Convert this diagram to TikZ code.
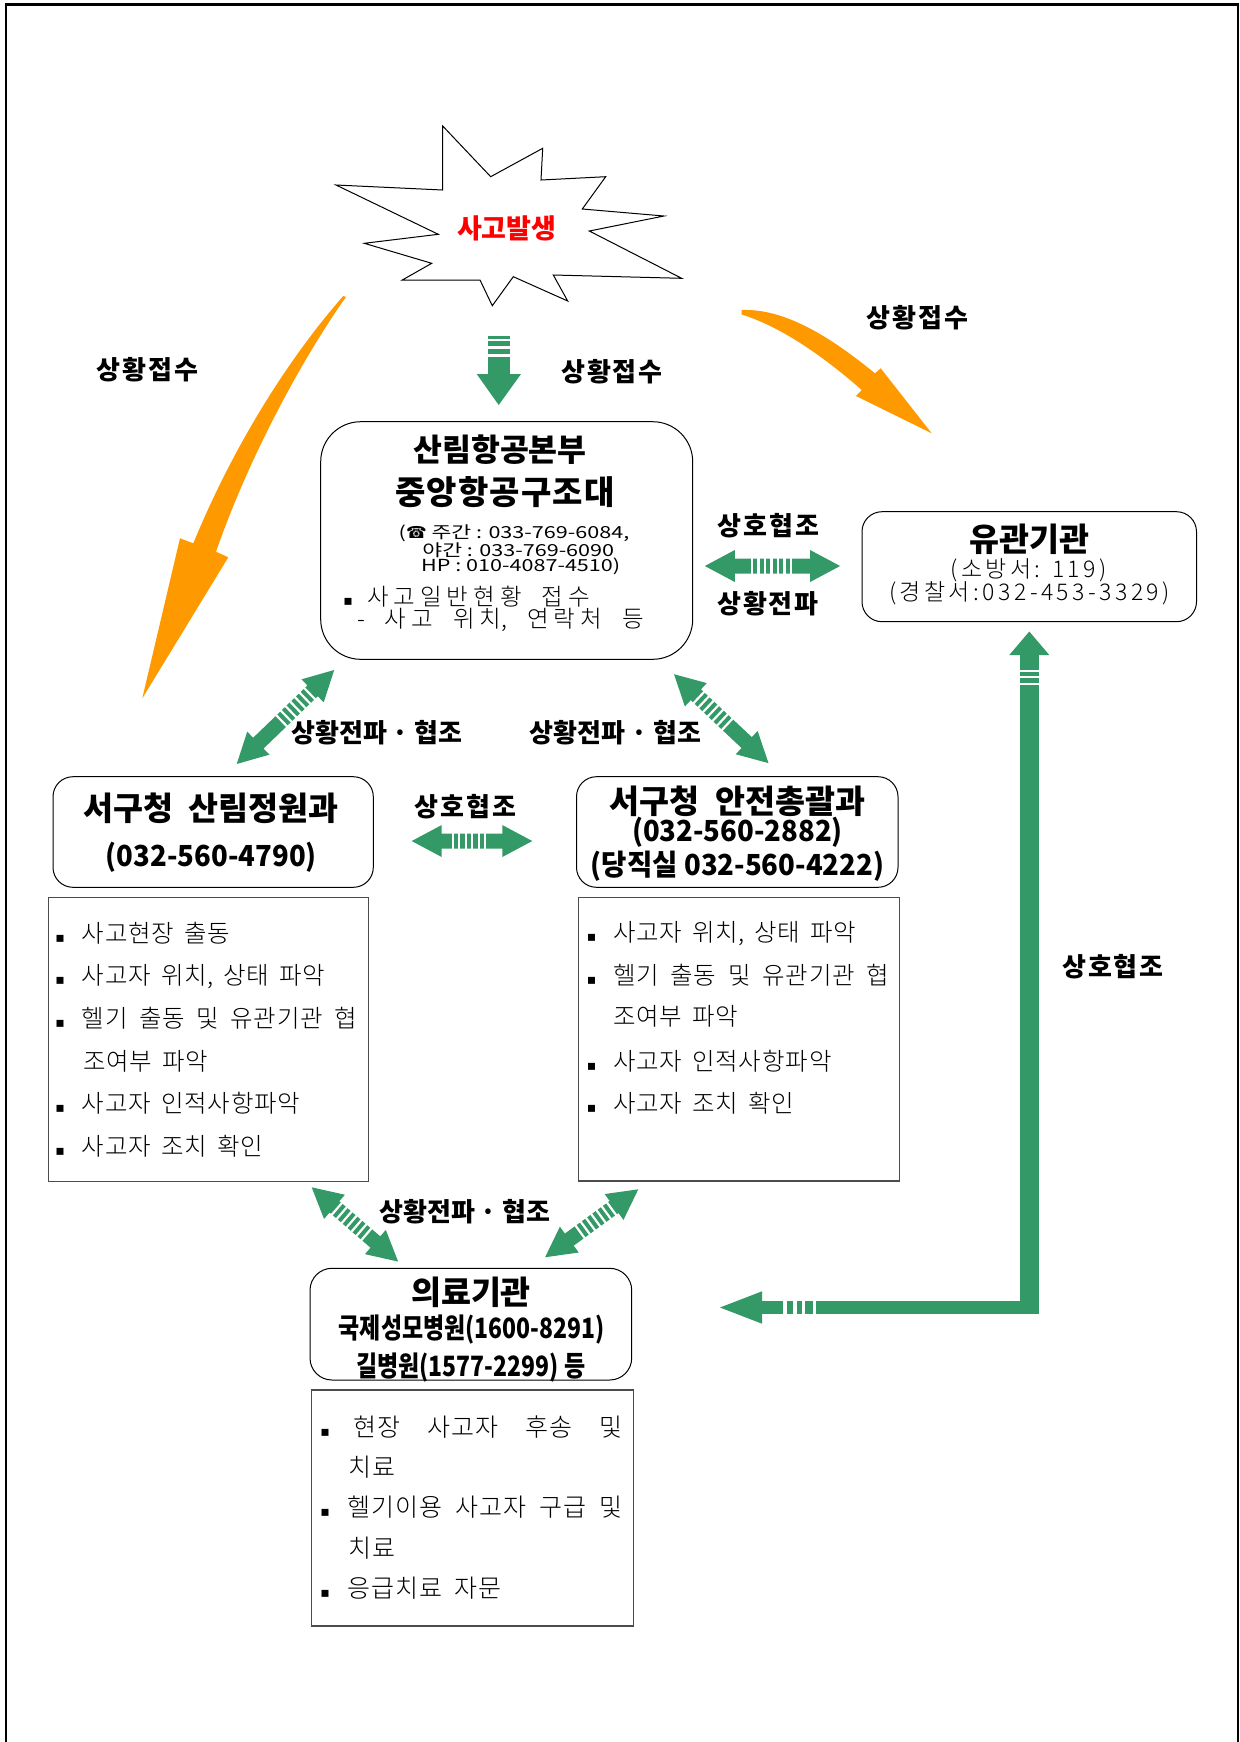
\documentclass[tikz,border=0pt]{standalone}
\usepackage{fontspec}
\newfontfamily\kreg{Noto Sans CJK KR}
\newfontfamily\klight{Noto Sans CJK KR Light}
\newfontfamily\klightls{Noto Sans CJK KR Light}[LetterSpace=15]
\newfontfamily\kcond{Noto Sans CJK KR}[FakeStretch=0.82]
\newfontfamily\kcondb{Noto Sans CJK KR}[FakeStretch=0.95]
\newfontfamily\kphone{Noto Sans CJK KR}[FakeStretch=1.3]
\newfontfamily\symfont{DejaVu Sans}
\usetikzlibrary{calc}

\definecolor{linkgreen}{RGB}{51,153,102}
\definecolor{flashorange}{RGB}{255,153,0}

% tracking between Hangul syllables
\XeTeXinterchartokenstate=1
\newXeTeXintercharclass\hanclass
\newcount\hancode
\hancode="AC00\relax
\loop
  \XeTeXcharclass\hancode=\hanclass
  \ifnum\hancode<"D7A3 \advance\hancode by 1
\repeat
\newdimen\hantrack
\XeTeXinterchartoks\hanclass\hanclass={\kern\hantrack}
\newcommand{\track}[1]{\hantrack#1\relax}
\newcommand{\wordgap}[1]{\spaceskip#1 plus 20pt minus 4.5pt\relax}

\newcommand{\blt}[1]{\makebox[#1][l]{\symfont\fontsize{7}{7}\selectfont ▪}}
% green two-way arrow: from, to, offset of first white gap (px), number of gaps
\newcommand{\greenlink}[4]{%
  \path let \p1=(#1), \p2=(#2) in
    \pgfextra{\pgfmathsetmacro\lnkang{atan2(\y2-\y1,\x2-\x1)}%
      \pgfmathsetmacro\lnklen{2*veclen(\x2-\x1,\y2-\y1)}%
      \global\let\lnkang\lnkang\global\let\lnklen\lnklen};
  \begin{scope}[shift={(#1)},rotate=\lnkang,x=0.5pt,y=0.5pt]
    \fill[linkgreen] (0,0) -- (30,16) -- (30,7.5) -- (\lnklen-30,7.5) -- (\lnklen-30,16)
      -- (\lnklen,0) -- (\lnklen-30,-16) -- (\lnklen-30,-7.5) -- (30,-7.5) -- (30,-16) -- cycle;
    \foreach \k in {1,...,#4}
      \fill[white] ({#3+(\k-1)*6.5},-8) rectangle ++(2.2,16);
  \end{scope}}

\begin{document}
\begin{tikzpicture}[x=0.5pt,y=-0.5pt,
  roundbox/.style={draw,line width=0.5pt,rounded corners=10pt,inner sep=0pt,outer sep=0pt},
  listbox/.style={draw=black!70,line width=0.7pt,inner sep=0pt,outer sep=0pt},
  boxtitle/.style={inner sep=0pt,font=\kreg\bfseries\fontsize{16.3}{18}\selectfont},
  arrowtag/.style={inner sep=0pt,font=\kreg\bfseries\fontsize{13}{15}\selectfont\track{1pt}},
  longtag/.style={inner sep=0pt,font=\kreg\bfseries\fontsize{13}{15}\selectfont},
  phoneno/.style={inner sep=0pt,font=\kcondb\bfseries\fontsize{14.5}{17}\selectfont},
  medno/.style={inner sep=0pt,font=\kcond\bfseries\fontsize{14}{16}\selectfont},
  hqno/.style={inner sep=0pt,font=\kphone\fontsize{8.3}{10}\selectfont},
  bodytext/.style={inner sep=0pt,font=\klightls\fontsize{11.5}{13}\selectfont\track{1.7pt}},
  listitem/.style={inner sep=0pt,anchor=west,
    font=\klight\fontsize{12.25}{14}\selectfont\track{0.4pt}\wordgap{5pt}},
  hqitem/.style={listitem,font=\klight\fontsize{11.75}{13}\selectfont\track{2.5pt}\wordgap{10pt}},
  meditem/.style={listitem,font=\klight\fontsize{12.5}{14}\selectfont\track{0.6pt}\wordgap{6pt}}]
\useasboundingbox (0,0) rectangle (1239,1742);
% page frame, open at the bottom
\draw[line width=1.15pt] (6.2,1750) -- (6.2,4.5) -- (1237.7,4.5) -- (1237.7,1750);

% accident
\draw[line width=0.5pt,fill=white] (442.7,126) -- (490.7,176.7) -- (542.7,148.3) -- (541,180)
  -- (605.7,176.7) -- (582.3,209) -- (664,216) -- (589.3,231) -- (681.7,278.3) -- (553.3,275)
  -- (567.7,301) -- (513.3,276.7) -- (492.3,305.7) -- (480,280) -- (402.3,280) -- (431.7,263.3)
  -- (364.3,243.3) -- (438.3,234.3) -- (336,185) -- (442.7,190) -- cycle;
\node[inner sep=0pt,text=red,font=\kreg\bfseries\fontsize{13.5}{15}\selectfont] (accident) at (506.7,228.3) {사고발생};

% orange arrows
\fill[flashorange] (343.3,296) .. controls (300,345) and (240,430) .. (193.3,543.3)
  -- (180,538.3) -- (142.3,698.3) -- (228.3,557.3) -- (216,551.7)
  .. controls (255,440) and (315,340) .. (346,297) -- cycle;
\fill[flashorange] (741.7,310) .. controls (790,308) and (840,345) .. (875,373.3)
  -- (880.7,368.3) -- (931.7,433.3) -- (856,396) -- (861.7,390)
  .. controls (830,362) and (785,328) .. (741.7,314.5) -- cycle;
\node[arrowtag] (tag-l) at (147.5,370) {상황접수};
\node[arrowtag] (tag-r) at (917.5,318) {상황접수};

% down arrow to hq
\coordinate (acc-out) at (498.7,336);
\begin{scope}[shift={(acc-out)}]
\fill[linkgreen] (-11,0) rectangle (11.3,38);
\fill[linkgreen] (-22,38) -- (22.3,38) -- (0,69) -- cycle;
\foreach \g in {2.7,10,18}
  \fill[white] (-12,\g) rectangle (12.3,\g+2.6);
\end{scope}
\node[arrowtag] (tag-c) at (612,372) {상황접수};

% hq
\node[roundbox,rounded corners=20pt,minimum width=186pt,minimum height=118.8pt] (hq) at (506.7,540.5) {};
\node[boxtitle,font=\kreg\bfseries\fontsize{15.7}{18}\selectfont] (hq-t1) at (500,450) {산림항공본부};
\node[boxtitle,font=\kreg\bfseries\fontsize{16.5}{18}\selectfont\track{0.6pt}] (hq-t2) at (505,491.7) {중앙항공구조대};
\node[hqno] (hq-p1) at (514,533.3) {({\symfont ☎} 주간 : 033-769-6084,};
\node[hqno] (hq-p2) at (518.3,550) {야간 : 033-769-6090};
\node[hqno] (hq-p3) at (520.7,566.7) {HP : 010-4087-4510)};
\node[hqitem] (hq-n1) at (343,596.7) {\blt{11.8pt}사고일반현황 접수};
\node[hqitem] (hq-n2) at (356.7,620) {- 사고 위치, 연락처 등};

% yugwan
\node[roundbox,minimum width=167.25pt,minimum height=55pt] (yugwan) at (1029.25,566.7) {};
\node[boxtitle] (yg-t) at (1029.5,539) {유관기관};
\node[bodytext] (yg-1) at (1028.6,570) {(소방서: 119)};
\node[bodytext] (yg-2) at (1029.5,593.3) {(경찰서:032-453-3329)};

% sanlim
\node[roundbox,minimum width=160.15pt,minimum height=55.3pt] (sanlim) at (213.15,832) {};
\node[boxtitle] (sl-t) at (211,808) {서구청\hspace{8pt}산림정원과};
\node[phoneno] (sl-p) at (211.4,857.5) {(032-560-4790)};
\node[listbox,minimum width=160.15pt,minimum height=142.2pt] (sanlimlist) at (208.55,1039.5) {};
\node[listitem] (sl-1) at (55,933.3) {\blt{13.3pt}사고현장 출동};
\node[listitem] (sl-2) at (55,976.7) {\blt{13.3pt}사고자 위치, 상태 파악};
\node[listitem] (sl-3) at (55,1018.3) {\blt{13.3pt}\makebox[137.6pt][s]{헬기 출동 및 유관기관 협}};
\node[listitem] (sl-4) at (82.8,1061.7) {조여부 파악};
\node[listitem] (sl-5) at (55,1103.3) {\blt{13.3pt}사고자 인적사항파악};
\node[listitem] (sl-6) at (55,1146.7) {\blt{13.3pt}사고자 조치 확인};

% safety
\node[roundbox,minimum width=160.75pt,minimum height=55.3pt] (safety) at (737.25,832) {};
\node[boxtitle] (sf-t) at (737.5,801.7) {서구청\hspace{8pt}안전총괄과};
\node[phoneno] (sf-p1) at (737.5,832.5) {(032-560-2882)};
\node[phoneno] (sf-p2) at (737.5,865.8) {(당직실 032-560-4222)};
\node[listbox,minimum width=160.75pt,minimum height=141.85pt] (safetylist) at (738.95,1039.15) {};
\node[listitem] (sf-1) at (586.5,933.3) {\blt{13.1pt}사고자 위치, 상태 파악};
\node[listitem] (sf-2) at (586.5,975) {\blt{13.1pt}\makebox[138pt][s]{헬기 출동 및 유관기관 협}};
\node[listitem] (sf-3) at (612.7,1016.7) {조여부 파악};
\node[listitem] (sf-4) at (586.5,1061.7) {\blt{13.1pt}사고자 인적사항파악};
\node[listitem] (sf-5) at (586.5,1103.3) {\blt{13.1pt}사고자 조치 확인};

% medical
\node[roundbox,rounded corners=11pt,minimum width=160.85pt,minimum height=55.85pt] (medical) at (470.85,1324.15) {};
\node[boxtitle] (md-t) at (471,1292.5) {의료기관};
\node[medno] (md-p1) at (471.7,1330) {국제성모병원(1600-8291)};
\node[medno] (md-p2) at (470.8,1367.5) {길병원(1577-2299) 등};
\node[listbox,minimum width=160.8pt,minimum height=118pt] (medlist) at (472.5,1508) {};
\node[meditem] (md-1) at (320,1426.7) {\blt{16.6pt}\makebox[134.2pt][s]{현장 사고자 후송 및}};
\node[meditem] (md-2) at (348.3,1466.7) {치료};
\node[meditem] (md-3) at (320,1506.7) {\blt{13.3pt}\makebox[137.5pt][s]{헬기이용 사고자 구급 및}};
\node[meditem] (md-4) at (348.3,1548.3) {치료};
\node[meditem] (md-5) at (320,1588.3) {\blt{13.3pt}응급치료 자문};

% two-way links
\coordinate (hq-e) at (704.8,566);
\coordinate (yg-w) at (840.1,566);
\coordinate (hq-sw) at (334.2,670);
\coordinate (sl-n) at (236.7,764);
\coordinate (hq-se) at (674,674.2);
\coordinate (sf-n) at (768.6,763.2);
\coordinate (sl-e) at (411.7,841);
\coordinate (sf-w) at (532.3,841);
\coordinate (sll-s) at (311.7,1187.3);
\coordinate (md-nw) at (398.3,1261.7);
\coordinate (sfl-s) at (638.3,1189.3);
\coordinate (md-ne) at (545,1257.3);
\greenlink{hq-e}{yg-w}{46}{7}
\greenlink{hq-sw}{sl-n}{33}{7}
\greenlink{hq-se}{sf-n}{33}{7}
\greenlink{sl-e}{sf-w}{40}{6}
\greenlink{sll-s}{md-nw}{32}{7}
\greenlink{sfl-s}{md-ne}{32}{7}
\node[arrowtag] (tag-hy1) at (768.6,525.7) {상호협조};
\node[arrowtag] (tag-hy2) at (768,603.3) {상황전파};
\node[longtag] (tag-ls) at (377,732.5) {상황전파 · 협조};
\node[longtag] (tag-rs) at (615.5,732.5) {상황전파 · 협조};
\node[arrowtag] (tag-mid) at (465.8,807) {상호협조};
\node[longtag] (tag-low) at (465,1211.7) {상황전파 · 협조};

% medical <-> yugwan
\coordinate (yg-s) at (1029.3,631.5);
\coordinate (md-e) at (720,1307.5);
\coordinate (bend) at (yg-s |- md-e);
\fill[linkgreen] ($(yg-s)+(-9.5,22)$) rectangle ($(bend)+(9.5,6.8)$);
\fill[linkgreen] ($(md-e)+(41,-6.8)$) rectangle ($(bend)+(9.5,6.8)$);
\fill[linkgreen] (yg-s) -- ++(-20,23.5) -- ++(40,0) -- cycle;
\fill[linkgreen] (md-e) -- ++(42,-16.2) -- ++(0,32.4) -- cycle;
\foreach \d in {38,44.5,51}
  \fill[white] ($(yg-s)+(-10,\d)$) rectangle ++(20,2.3);
\foreach \d in {63.3,73.3,82,92.7}
  \fill[white] ($(md-e)+(\d,-7.5)$) rectangle ++(3.4,15);
\node[arrowtag] (tag-far) at (1113,966.5) {상호협조};
\end{tikzpicture}
\end{document}
